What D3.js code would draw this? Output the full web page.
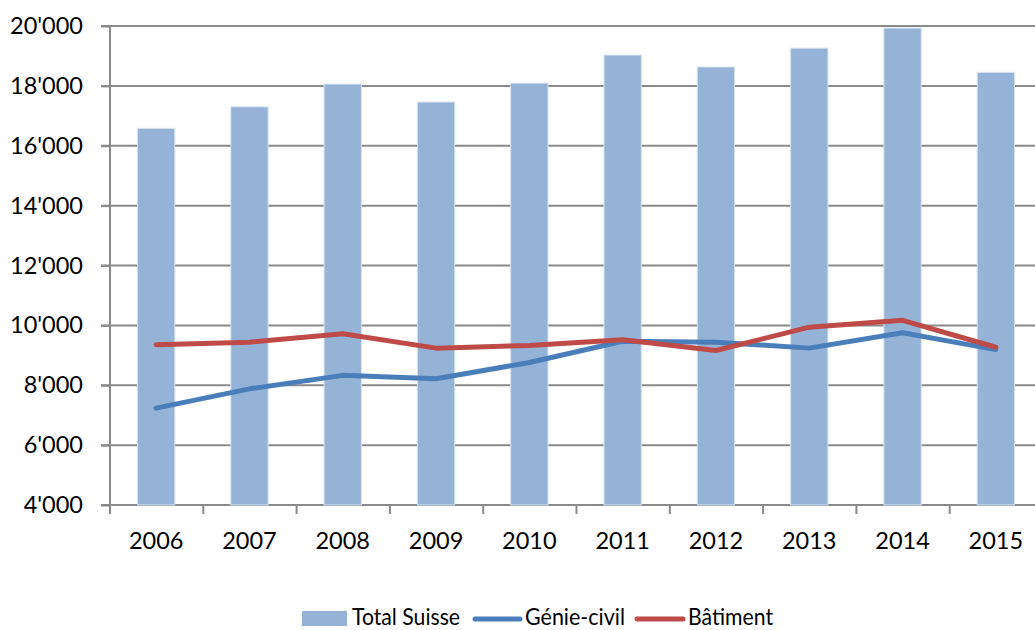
<!DOCTYPE html>
<html><head><meta charset="utf-8">
<script src="https://cdn.jsdelivr.net/npm/d3@7"></script>
<style>body{margin:0;background:#fff}svg{display:block}text{font-family:Lato,"Open Sans",sans-serif;fill:#000}</style>
</head><body><svg id="c" width="1035" height="630"></svg>
<script>
const years = ["2006","2007","2008","2009","2010","2011","2012","2013","2014","2015"];
const totalSuisse = [16580,17300,18060,17460,18090,19030,18630,19260,19930,18450];
const genieCivil = [7235,7880,8330,8220,8760,9470,9440,9240,9755,9190];
const batiment = [9355,9440,9720,9240,9330,9520,9160,9940,10170,9270];
const yTicks = [4000,6000,8000,10000,12000,14000,16000,18000,20000];
const seriesNames = ["Total Suisse","Génie-civil","Bâtiment"];

const svg = d3.select("#c");
const x = d3.scaleBand().domain(years).range([109.5,1042.5]).padding(0);
const y = d3.scaleLinear().domain([4000,20000]).range([505,26]);
const fmt = v => d3.format(",")(v).replace(/,/g,"'");
const bw = x.bandwidth()*0.4;
const FS = 23.5;

svg.append("g").selectAll("line").data(yTicks).join("line")
  .attr("x1",101).attr("x2",1035).attr("y1",d=>y(d)).attr("y2",d=>y(d))
  .attr("stroke","#8a8a8a").attr("stroke-width",2);

svg.append("g").selectAll("rect").data(years).join("rect")
  .attr("x",d=>x(d)+x.bandwidth()/2-bw/2).attr("width",bw)
  .attr("y",(d,i)=>y(totalSuisse[i])).attr("height",(d,i)=>y(4000)-y(totalSuisse[i]))
  .attr("fill","#95b3d7").attr("stroke","#d6e2f0").attr("stroke-width",1);

const yAx = d3.axisLeft(y).tickValues(yTicks).tickFormat(fmt).tickSize(9).tickPadding(18);
const gy = svg.append("g").attr("transform","translate(110,0)").call(yAx);
gy.select(".domain").attr("stroke","#8a8a8a").attr("stroke-width",2).attr("d","M0,505V26");
gy.selectAll(".tick line").attr("stroke","#8a8a8a").attr("stroke-width",2);
gy.selectAll("text").attr("font-size",FS).attr("fill","#000");

const xAx = d3.axisBottom(x).tickSize(0).tickPadding(27);
const gx = svg.append("g").attr("transform","translate(0,505)").call(xAx);
gx.select(".domain").remove();
gx.selectAll("text").attr("font-size",FS).attr("fill","#000");
svg.append("g").selectAll("line").data(years).join("line")
  .attr("x1",d=>x(d)+0.5).attr("x2",d=>x(d)+0.5).attr("y1",505).attr("y2",514)
  .attr("stroke","#8a8a8a").attr("stroke-width",2);

const line = d3.line().x((d,i)=>x(years[i])+x.bandwidth()/2).y(d=>y(d));
svg.append("path").datum(genieCivil).attr("d",line).attr("fill","none")
  .attr("stroke","#4a7ebb").attr("stroke-width",5).attr("stroke-linecap","round").attr("stroke-linejoin","round");
svg.append("path").datum(batiment).attr("d",line).attr("fill","none")
  .attr("stroke","#be4b48").attr("stroke-width",5).attr("stroke-linecap","round").attr("stroke-linejoin","round");

const lg = svg.append("g");
lg.append("rect").attr("x",302).attr("y",611).attr("width",45).attr("height",15).attr("fill","#95b3d7");
lg.append("text").attr("x",352).attr("y",625).attr("font-size",FS).attr("textLength",108).attr("lengthAdjust","spacingAndGlyphs").text(seriesNames[0]);
lg.append("line").attr("x1",475).attr("x2",520).attr("y1",619).attr("y2",619)
  .attr("stroke","#4a7ebb").attr("stroke-width",5).attr("stroke-linecap","round");
lg.append("text").attr("x",525).attr("y",625).attr("font-size",FS).attr("textLength",100).attr("lengthAdjust","spacingAndGlyphs").text(seriesNames[1]);
lg.append("line").attr("x1",637).attr("x2",683).attr("y1",619).attr("y2",619)
  .attr("stroke","#be4b48").attr("stroke-width",5).attr("stroke-linecap","round");
lg.append("text").attr("x",688).attr("y",625).attr("font-size",FS).attr("textLength",85).attr("lengthAdjust","spacingAndGlyphs").text(seriesNames[2]);
</script></body></html>
